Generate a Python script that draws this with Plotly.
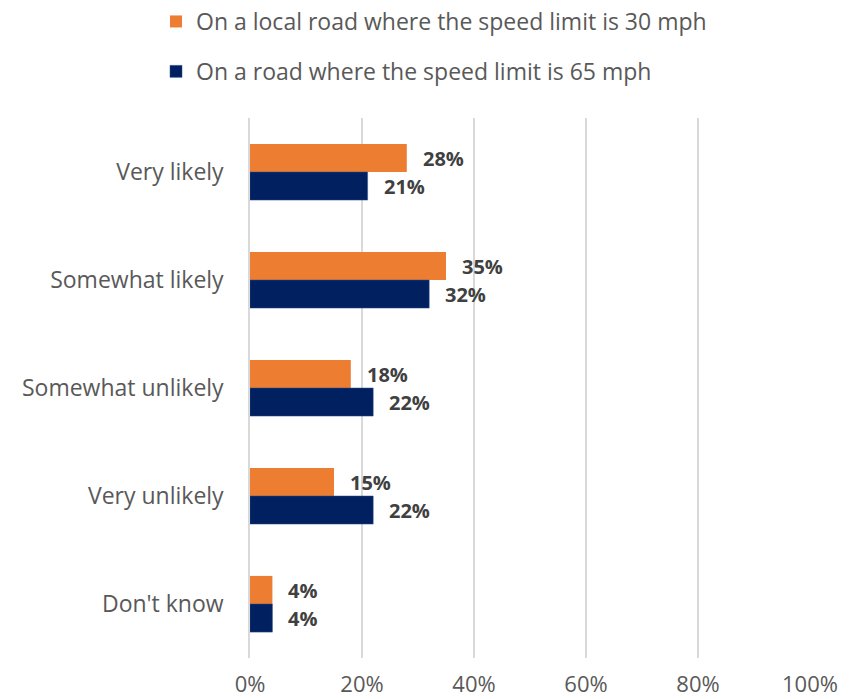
import plotly.graph_objects as go

categories = ["Very likely", "Somewhat likely", "Somewhat unlikely", "Very unlikely", "Don't know"]
local30 = [28, 35, 18, 15, 4]
road65 = [21, 32, 22, 22, 4]
series_names = ["On a local road where the speed limit is 30 mph",
                "On a road where the speed limit is 65 mph"]
x_ticks = [0, 20, 40, 60, 80, 100]
x_tick_labels = ["0%", "20%", "40%", "60%", "80%", "100%"]

FONT = "Open Sans"
ORANGE = "#ED7D31"
NAVY = "#002060"

fig = go.Figure()
fig.add_trace(go.Bar(y=categories, x=local30, orientation="h", name=series_names[0],
                     marker=dict(color=ORANGE, line=dict(width=0)),
                     legendgroup="a"))
fig.add_trace(go.Bar(y=categories, x=road65, orientation="h", name=series_names[1],
                     marker=dict(color=NAVY, line=dict(color="#2F4F8F", width=0.5)),
                     legendgroup="b"))

annotations = []
for c, v in zip(categories, local30):
    annotations.append(dict(x=v, y=c, text=f"<b>{v}%</b>", showarrow=False, xanchor="left",
                            yanchor="middle", xshift=14, yshift=14,
                            font=dict(family=FONT, size=20, color="#404040")))
for c, v in zip(categories, road65):
    annotations.append(dict(x=v, y=c, text=f"<b>{v}%</b>", showarrow=False, xanchor="left",
                            yanchor="middle", xshift=14, yshift=-14,
                            font=dict(family=FONT, size=20, color="#404040")))

fig.update_layout(
    width=852, height=699,
    margin=dict(l=250, r=42, t=118, b=41, autoexpand=False),
    plot_bgcolor="white", paper_bgcolor="white",
    barmode="group", bargap=0.48, bargroupgap=0,
    font=dict(family=FONT, size=23, color="#595959"),
    legend=dict(xref="container", yref="container", x=156/852, y=1.0,
                xanchor="left", yanchor="top",
                traceorder="grouped", tracegroupgap=17,
                font=dict(family=FONT, size=23, color="#595959"),
                itemwidth=30),
    annotations=annotations,
    xaxis=dict(range=[0, 100], tickvals=x_ticks, ticktext=x_tick_labels,
               tickfont=dict(family=FONT, size=22, color="#595959"),
               showgrid=True, gridcolor="#D9D9D9", gridwidth=1.5,
               zeroline=False, ticks="", ticklabelstandoff=11, automargin=False),
    yaxis=dict(autorange="reversed", categoryorder="array", categoryarray=categories,
               showline=True, linecolor="#D9D9D9", linewidth=1.5,
               ticks="", ticklabelstandoff=20, automargin=False),
)

fig.write_html("out.html", config={"displayModeBar": False},
               post_script="document.body.style.margin='0px';document.body.style.overflow='hidden';")
